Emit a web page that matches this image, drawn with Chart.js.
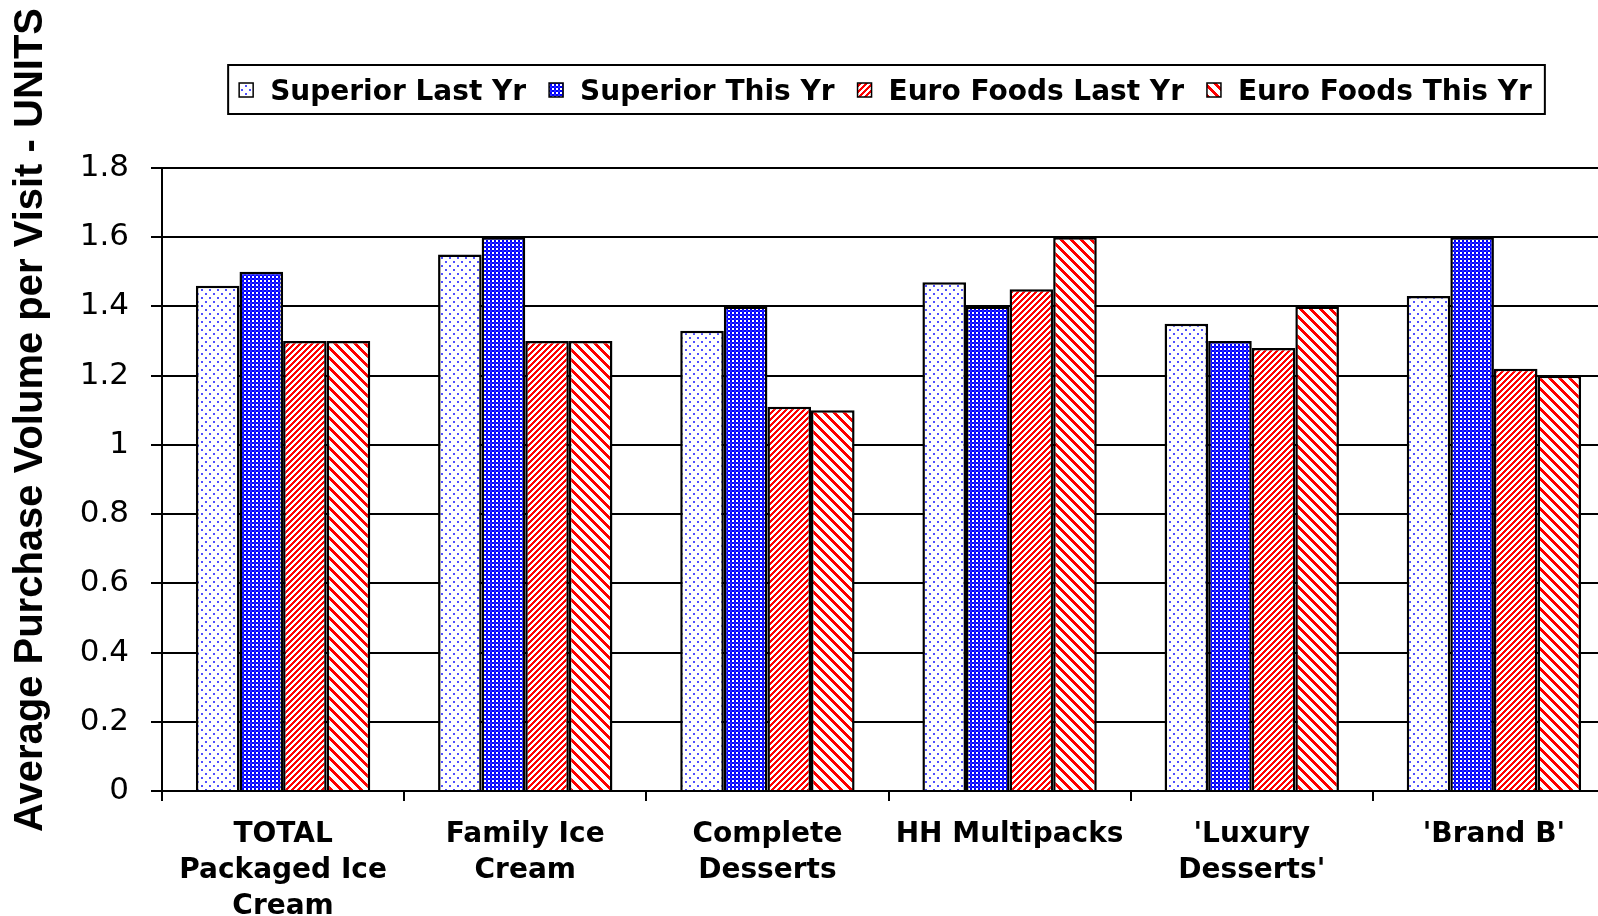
<!DOCTYPE html>
<html>
<head>
<meta charset="utf-8">
<title>Average Purchase Volume per Visit</title>
<style>
  html, body { margin: 0; padding: 0; background: #fff; overflow: hidden; }
  #wrap { width: 1620px; height: 916px; position: relative; }
</style>
<script src="https://cdn.jsdelivr.net/npm/chart.js@4.4.0/dist/chart.umd.min.js"></script>
</head>
<body>
<div id="wrap"><canvas id="chart"></canvas></div>
<script>
// ---- data ----
const categories = [
  ['TOTAL', 'Packaged Ice', 'Cream'],
  ['Family Ice', 'Cream'],
  ['Complete', 'Desserts'],
  ['HH Multipacks'],
  ["'Luxury", "Desserts'"],
  ["'Brand B'"]
];
const seriesNames = ['Superior Last Yr', 'Superior This Yr', 'Euro Foods Last Yr', 'Euro Foods This Yr'];
const superiorLastYr  = [1.46, 1.55, 1.33, 1.47, 1.35, 1.43];
const superiorThisYr  = [1.50, 1.60, 1.40, 1.40, 1.30, 1.60];
const euroFoodsLastYr = [1.30, 1.30, 1.11, 1.45, 1.28, 1.22];
const euroFoodsThisYr = [1.30, 1.30, 1.10, 1.60, 1.40, 1.20];
const yTickLabels = ['0', '0.2', '0.4', '0.6', '0.8', '1', '1.2', '1.4', '1.6', '1.8'];
const yAxisTitle = 'Average Purchase Volume per Visit - UNITS';

// ---- fill patterns ----
const canvas = document.getElementById('chart');
const mainCtx = canvas.getContext('2d');

function makeTile(size, pixel) {
  const c = document.createElement('canvas');
  c.width = c.height = size;
  const g = c.getContext('2d');
  const img = g.createImageData(size, size);
  for (let y = 0; y < size; y++) {
    for (let x = 0; x < size; x++) {
      const rgb = pixel(x, y);
      const i = (y * size + x) * 4;
      img.data[i] = rgb[0]; img.data[i + 1] = rgb[1]; img.data[i + 2] = rgb[2]; img.data[i + 3] = 255;
    }
  }
  g.putImageData(img, 0, 0);
  return mainCtx.createPattern(c, 'repeat');
}

const WHITE = [255, 255, 255];
// sparse blue dots on white
const dotPattern = makeTile(8, (x, y) => {
  const onA = (x === 1 || x === 2) && (y === 1 || y === 2);
  const onB = (x === 5 || x === 6) && (y === 5 || y === 6);
  return (onA || onB) ? [80, 80, 255] : WHITE;
});
// dense blue checks
const checkPattern = makeTile(4, (x, y) => {
  if (x < 2 && y < 2) return WHITE;
  if (x >= 2 && y >= 2) return [40, 40, 255];
  return [0, 0, 255];
});
// narrow red stripes rising to the right
const fineStripePattern = makeTile(6, (x, y) => ((x + y) % 6) < 3 ? [255, 0, 0] : WHITE);
// wide red stripes falling to the right
const wideStripePattern = makeTile(10, (x, y) => ((((x - y) % 10) + 10) % 10) < 4 ? [255, 0, 0] : WHITE);

// ---- framed legend above the plot ----
const framedLegend = {
  id: 'framedLegend',
  afterDraw(chart) {
    const ctx = chart.ctx;
    const sets = chart.data.datasets;
    ctx.save();
    ctx.font = 'bold 28px "DejaVu Sans"';
    const box = 14, gapText = 17, gapItem = 23, padL = 11, padR = 13;
    const widths = sets.map(d => ctx.measureText(d.label).width);
    const total = widths.reduce((s, w) => s + box + gapText + w, 0) + gapItem * (sets.length - 1);
    const cx = (chart.chartArea.left + chart.chartArea.right) / 2 - 3;
    let x = cx - total / 2;
    const cy = 90;
    ctx.lineWidth = 2;
    ctx.strokeStyle = '#000';
    ctx.strokeRect(x - padL, 65, total + padL + padR, 49);
    sets.forEach((d, i) => {
      ctx.fillStyle = d.backgroundColor;
      ctx.fillRect(x, cy - 7, box, box);
      ctx.lineWidth = 1.5;
      ctx.strokeRect(x, cy - 7, box, box);
      ctx.fillStyle = '#000';
      ctx.textBaseline = 'middle';
      ctx.textAlign = 'left';
      ctx.fillText(d.label, x + box + gapText, cy + 3);
      x += box + gapText + widths[i] + gapItem;
    });
    ctx.restore();
  }
};

// ---- rotated value-axis title ----
const valueAxisTitle = {
  id: 'valueAxisTitle',
  afterDraw(chart) {
    const ctx = chart.ctx;
    ctx.save();
    ctx.translate(42, 420);
    ctx.rotate(-Math.PI / 2);
    ctx.font = 'bold 40px "Liberation Sans"';
    ctx.fillStyle = '#000';
    ctx.textAlign = 'center';
    ctx.textBaseline = 'alphabetic';
    ctx.fillText(yAxisTitle, 0, 0);
    ctx.restore();
  }
};

const fills = [dotPattern, checkPattern, fineStripePattern, wideStripePattern];
const values = [superiorLastYr, superiorThisYr, euroFoodsLastYr, euroFoodsThisYr];

new Chart(canvas, {
  type: 'bar',
  data: {
    labels: categories,
    datasets: seriesNames.map((name, i) => ({
      label: name,
      data: values[i],
      backgroundColor: fills[i],
      borderColor: '#000',
      borderWidth: 2.5,
      categoryPercentage: 0.72,
      barPercentage: 1.0
    }))
  },
  options: {
    responsive: true,
    maintainAspectRatio: false,
    animation: false,
    layout: { padding: { top: 168, right: 5, bottom: 0, left: 0 } },
    plugins: {
      legend: { display: false },
      tooltip: { enabled: false }
    },
    scales: {
      x: {
        afterFit(scale) { scale.height = 125; },
        border: { color: '#000', width: 2 },
        grid: { display: true, drawOnChartArea: false, drawTicks: true, tickLength: 10, color: '#000', lineWidth: 2, offset: true },
        ticks: {
          color: '#000',
          font: { family: '"DejaVu Sans"', size: 28, weight: 'bold', lineHeight: 1.28 },
          padding: 16,
          maxRotation: 0,
          autoSkip: false
        }
      },
      y: {
        min: 0,
        max: 1.8,
        afterFit(scale) { scale.width = 162; },
        border: { color: '#000', width: 2 },
        grid: { color: '#000', lineWidth: 2, tickLength: 11, drawTicks: true },
        ticks: {
          stepSize: 0.2,
          color: '#000',
          padding: 22,
          font: { family: '"DejaVu Sans"', size: 31 },
          callback: (v, i) => yTickLabels[i]
        }
      }
    }
  },
  plugins: [framedLegend, valueAxisTitle]
});
</script>
</body>
</html>
